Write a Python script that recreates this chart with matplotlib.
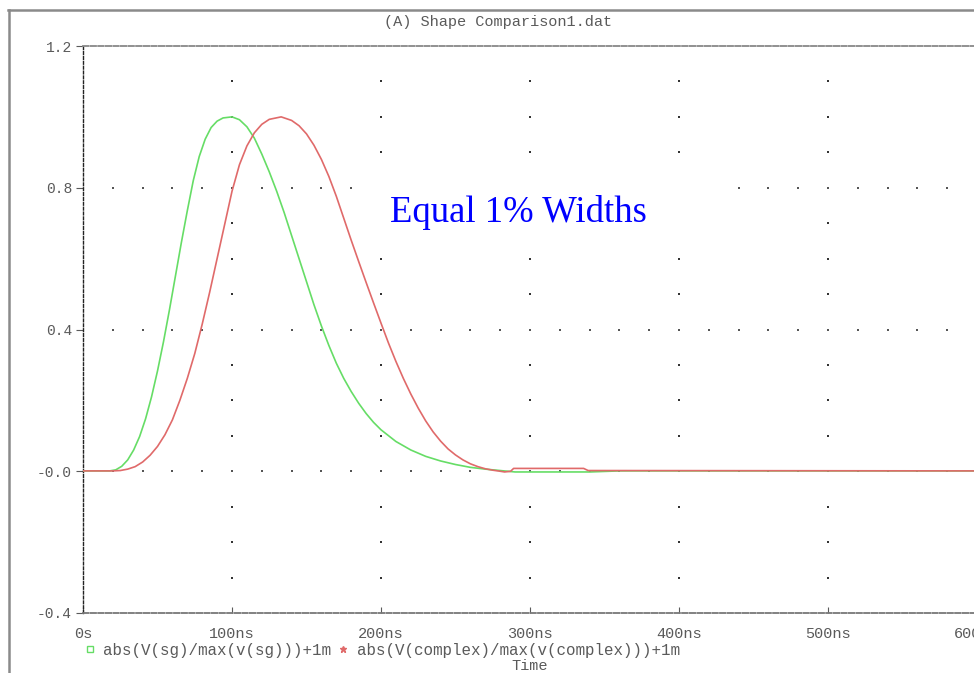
import numpy as np
import matplotlib
matplotlib.use("Agg")
import matplotlib.pyplot as plt
from matplotlib.lines import Line2D
from matplotlib.patches import Rectangle

# green trace: abs(V(sg)/max(v(sg)))+1m
sg_t = [0, 18, 22, 26, 30, 34, 38, 42, 46, 50, 54, 58, 62, 66, 70, 74, 78, 82, 86, 90, 94, 100,
        105, 110, 115, 120, 125, 130, 135, 140, 145, 150, 155, 160, 165, 170, 175, 180, 185, 190,
        195, 200, 210, 220, 230, 240, 250, 260, 270, 280, 290, 340, 360, 600]
sg_v = [0.001, 0.001, 0.004, 0.014, 0.032, 0.060, 0.098, 0.148, 0.210, 0.283, 0.365, 0.455,
        0.550, 0.645, 0.735, 0.820, 0.888, 0.937, 0.970, 0.988, 0.997, 1.0,
        0.992, 0.972, 0.94, 0.895, 0.845, 0.79, 0.73, 0.665, 0.60, 0.535, 0.47, 0.41, 0.355,
        0.305, 0.262, 0.225, 0.192, 0.163, 0.138, 0.117, 0.084, 0.06, 0.042, 0.029, 0.019,
        0.011, 0.006, 0.002, -0.002, -0.002, 0.001, 0.001]

# red trace: abs(V(complex)/max(v(complex)))+1m
cx_t = [0, 20, 25, 30, 35, 40, 45, 50, 55, 60, 65, 70, 75, 80, 85, 90, 95, 100, 105, 110, 115,
        120, 125, 133, 140, 145, 150, 155, 160, 165, 170, 175, 180, 185, 190, 195, 200, 205, 210,
        215, 220, 225, 230, 235, 240, 245, 250, 255, 260, 265, 270, 275, 280, 283, 287, 289,
        336, 339, 600]
cx_v = [0.001, 0.001, 0.002, 0.006, 0.013, 0.026, 0.045, 0.07, 0.103, 0.145, 0.2, 0.262, 0.332,
        0.415, 0.505, 0.6, 0.695, 0.79, 0.865, 0.918, 0.955, 0.979, 0.993, 1.0, 0.99, 0.975,
        0.952, 0.92, 0.88, 0.832, 0.776, 0.714, 0.652, 0.592, 0.533, 0.475, 0.418, 0.362, 0.31,
        0.262, 0.218, 0.178, 0.142, 0.111, 0.085, 0.063, 0.046, 0.032, 0.021, 0.013, 0.007,
        0.003, 0.0, -0.002, 0.0, 0.008, 0.008, 0.002, 0.001]

xticks = [0, 100, 200, 300, 400, 500, 600]
xlabels = ['0s', '100ns', '200ns', '300ns', '400ns', '500ns', '600ns']
yticks = [-0.4, 0.0, 0.4, 0.8, 1.2]
ylabels = ['-0.4', '-0.0', '0.4', '0.8', '1.2']

green = '#66dd66'
red = '#e06a6a'
txt = '#5a5a5a'

plt.rcParams.update({
    'font.family': 'Liberation Mono',
    'font.size': 11,
    'text.color': txt,
    'xtick.color': txt,
    'ytick.color': txt,
    'xtick.labelcolor': txt,
    'ytick.labelcolor': txt,
})

fig = plt.figure(figsize=(9.74, 6.73), dpi=100)
ax = fig.add_axes([83/974, 60/673, 894/974, 567/673])
ax.set_xlim(0, 600)
ax.set_ylim(-0.4, 1.2)

# dotted grid, pspice style
gy = np.round(np.arange(-0.3, 1.15, 0.1), 2)
for gx in xticks[1:]:
    ax.scatter(np.full(len(gy), gx), gy, s=3.5, marker='s', color='#333333', lw=0, zorder=1, clip_on=False)
gx_row = np.arange(20, 600, 20)
for yy in [0.0, 0.4, 0.8]:
    ax.scatter(gx_row, np.full(len(gx_row), yy), s=3.5, marker='s', color='#555555', lw=0, zorder=1)

# white box behind the annotation
ax.add_patch(Rectangle((182.5, 0.612), 257, 0.27, facecolor='white', edgecolor='none', zorder=2))

ax.plot(sg_t, sg_v, color=green, linewidth=1.2, zorder=3)
ax.plot(cx_t, cx_v, color=red, linewidth=1.2, zorder=4)

ax.text(206, 0.703, 'Equal 1% Widths', family='Liberation Serif', fontsize=26.4,
        color='#0000ff', va='baseline', ha='left', zorder=5)

ax.spines['right'].set_visible(False)
ax.spines['left'].set_linestyle((0, (2, 1.5)))
ax.spines['left'].set_color('#222222')
ax.spines['left'].set_linewidth(1.0)
ax.spines['top'].set_linestyle((0, (3, 1.2)))
ax.spines['top'].set_color('#888888')
ax.spines['top'].set_linewidth(1.3)
ax.spines['bottom'].set_linestyle((0, (3, 1.2)))
ax.spines['bottom'].set_color('#777777')
ax.spines['bottom'].set_linewidth(1.3)

ax.set_xticks(xticks)
ax.set_xticklabels(xlabels)
ax.set_yticks(yticks)
ax.set_yticklabels(ylabels)
ax.tick_params(axis='x', direction='in', length=4, pad=10, labelsize=11)
ax.tick_params(axis='y', direction='out', length=5, pad=3, labelsize=10.5)

fig.text(498/974, 1 - 22/673, '(A) Shape Comparison1.dat', ha='center', va='center',
         fontsize=11, color=txt)

handles = [
    Line2D([], [], ls='none', marker='s', mfc='none', mec=green, ms=4, mew=1),
    Line2D([], [], ls='none', marker='*', color=red, ms=5),
]
fig.legend(handles, ['abs(V(sg)/max(v(sg)))+1m', 'abs(V(complex)/max(v(complex)))+1m'],
           loc='center left', bbox_to_anchor=(85/974, 1 - 650/673), ncol=2, frameon=False,
           fontsize=11.4, handlelength=0.6, handletextpad=0.55, columnspacing=0.45,
           borderpad=0, borderaxespad=0)
fig.text(530/974, 1 - 666/673, 'Time', ha='center', va='center', fontsize=11, color=txt)

# window frame
fig.add_artist(Line2D([8/974, 1], [1 - 10/673, 1 - 10/673], color='#8a8a8a', lw=1.8))
fig.add_artist(Line2D([9/974, 9/974], [0, 1 - 10/673], color='#8a8a8a', lw=1.8))

plt.savefig("out.png", dpi=100)
